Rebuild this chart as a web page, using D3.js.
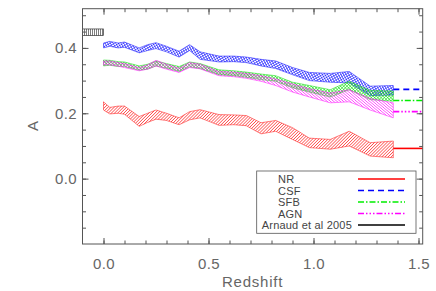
<!DOCTYPE html>
<html>
<head>
<meta charset="utf-8">
<script src="https://d3js.org/d3.v7.min.js"></script>
<style>
body { margin: 0; padding: 0; background: #fff; }
svg text { font-family: "Liberation Sans", Arial, sans-serif; }
.axis text { font-size: 15px; fill: #666; letter-spacing: 0.4px; }
.axis line, .axis path { stroke: #555; }
</style>
</head>
<body>
<svg id="chart" width="436" height="291"></svg>
<script>

// redshift of the simulation outputs
var zs = [0, 0.03, 0.07, 0.1, 0.17, 0.21, 0.25, 0.3, 0.36, 0.41, 0.46, 0.55, 0.62, 0.68, 0.75, 0.82, 0.9, 0.98, 1.08, 1.17, 1.27, 1.38];

// upper / lower edge of each band
var nrHi  = [0.235, 0.218, 0.222, 0.222, 0.19, 0.2, 0.21, 0.2, 0.186, 0.205, 0.211, 0.196, 0.195, 0.193, 0.171, 0.178, 0.156, 0.124, 0.12, 0.145, 0.11, 0.115];
var nrLo  = [0.21, 0.198, 0.2, 0.197, 0.16, 0.172, 0.182, 0.178, 0.165, 0.18, 0.186, 0.163, 0.165, 0.162, 0.137, 0.145, 0.12, 0.095, 0.09, 0.1, 0.069, 0.064];
var csfHi = [0.415, 0.42, 0.415, 0.418, 0.4, 0.41, 0.416, 0.405, 0.39, 0.41, 0.388, 0.375, 0.375, 0.372, 0.365, 0.36, 0.34, 0.325, 0.322, 0.328, 0.283, 0.285];
var csfLo = [0.4, 0.405, 0.4, 0.402, 0.385, 0.392, 0.398, 0.388, 0.372, 0.392, 0.365, 0.357, 0.358, 0.355, 0.345, 0.337, 0.318, 0.3, 0.295, 0.293, 0.254, 0.256];
var sfbHi = [0.363, 0.362, 0.358, 0.357, 0.345, 0.35, 0.36, 0.352, 0.343, 0.357, 0.352, 0.333, 0.33, 0.326, 0.32, 0.315, 0.295, 0.285, 0.272, 0.298, 0.27, 0.268];
var sfbLo = [0.345, 0.347, 0.343, 0.343, 0.332, 0.335, 0.345, 0.338, 0.328, 0.342, 0.337, 0.318, 0.315, 0.31, 0.303, 0.298, 0.278, 0.265, 0.25, 0.272, 0.242, 0.237];
var agnHi = [0.36, 0.36, 0.355, 0.352, 0.34, 0.348, 0.362, 0.35, 0.338, 0.355, 0.35, 0.328, 0.326, 0.322, 0.315, 0.305, 0.29, 0.275, 0.262, 0.272, 0.245, 0.232];
var agnLo = [0.348, 0.348, 0.344, 0.34, 0.33, 0.335, 0.345, 0.335, 0.325, 0.34, 0.336, 0.315, 0.312, 0.307, 0.298, 0.285, 0.265, 0.25, 0.232, 0.235, 0.21, 0.186];

// fitted value at the last output, drawn out to the edge
var names   = ["NR", "CSF", "SFB", "AGN"];
var endVals = [0.0925, 0.273, 0.239, 0.205];
var zEnd = [1.38, 1.52];

// Arnaud et al 2005 (z ~ 0)
var arnaudZ = [-0.1, 0];
var arnaudA = [0.438, 0.458];

var xTicks = [0, 0.5, 1, 1.5];
var yTicks = [0, 0.2, 0.4];

var svg = d3.select("#chart");
var x = d3.scaleLinear().domain([-0.1, 1.52]).range([82.5, 422.7]);
var y = d3.scaleLinear().domain([-0.2, 0.52]).range([244, 8.7]);

var defs = svg.append("defs");
function hatch(id, color, angle, gap, grid) {
  var p = defs.append("pattern").attr("id", id)
    .attr("patternUnits", "userSpaceOnUse")
    .attr("width", gap).attr("height", gap)
    .attr("patternTransform", "rotate(" + angle + ")");
  p.append("line").attr("x1", 0).attr("y1", 0).attr("x2", 0).attr("y2", gap)
    .attr("stroke", color).attr("stroke-width", 1.1);
  if (grid) p.append("line").attr("x1", 0).attr("y1", 0).attr("x2", gap).attr("y2", 0)
    .attr("stroke", color).attr("stroke-width", 1.0);
}
hatch("hNR", "#ff1010", 45, 2.2);
hatch("hCSF", "#1010ff", -30, 2.3, true);
hatch("hSFB", "#10e010", -45, 2.3, true);
hatch("hAGN", "#ff10ff", -50, 2.1);
hatch("hARN", "#111", 0, 2.0);

var bands = [
  {hi: nrHi, lo: nrLo, c: "#ff2020", p: "hNR"},
  {hi: csfHi, lo: csfLo, c: "#2020ff", p: "hCSF"},
  {hi: sfbHi, lo: sfbLo, c: "#20e020", p: "hSFB"},
  {hi: agnHi, lo: agnLo, c: "#ff20ff", p: "hAGN"}
];

var area = d3.area()
  .x(function(d) { return x(d.z); })
  .y0(function(d) { return y(d.lo); })
  .y1(function(d) { return y(d.hi); });

bands.forEach(function(b) {
  var pts = zs.map(function(z, i) { return {z: z, hi: b.hi[i], lo: b.lo[i]}; });
  svg.append("path").datum(pts).attr("d", area)
    .attr("fill", "url(#" + b.p + ")")
    .attr("stroke", b.c).attr("stroke-width", 0.7).attr("stroke-opacity", 0.8);
});

svg.append("rect")
  .attr("x", x(arnaudZ[0])).attr("y", y(arnaudA[1]))
  .attr("width", x(arnaudZ[1]) - x(arnaudZ[0]))
  .attr("height", y(arnaudA[0]) - y(arnaudA[1]))
  .attr("fill", "url(#hARN)").attr("stroke", "#333").attr("stroke-width", 0.7);

var styles = [
  {c: "#ff0000", dash: null},
  {c: "#0000ff", dash: "6,4"},
  {c: "#00ee00", dash: "6,2,1.5,2"},
  {c: "#ff00ff", dash: "6,2,1.5,2,1.5,2,1.5,2"},
  {c: "#000000", dash: null}
];

endVals.forEach(function(v, i) {
  svg.append("line")
    .attr("x1", x(zEnd[0])).attr("x2", x(zEnd[1]))
    .attr("y1", y(v)).attr("y2", y(v))
    .attr("stroke", styles[i].c).attr("stroke-width", 1.6)
    .attr("stroke-dasharray", styles[i].dash);
});

// axes: inward ticks on all four sides
var ax = svg.append("g").attr("class", "axis");
ax.append("g").attr("transform", "translate(0,244)")
  .call(d3.axisBottom(x).tickValues(xTicks).tickFormat(d3.format(".1f")).tickSizeInner(-6).tickSizeOuter(0).tickPadding(14));
ax.append("g").attr("transform", "translate(0,244)")
  .call(d3.axisBottom(x).tickValues(d3.range(0, 1.51, 0.1)).tickFormat("").tickSizeInner(-3.5).tickSizeOuter(0));
ax.append("g").attr("transform", "translate(0,8.7)")
  .call(d3.axisTop(x).tickValues(xTicks).tickFormat("").tickSizeInner(-6).tickSizeOuter(0));
ax.append("g").attr("transform", "translate(0,8.7)")
  .call(d3.axisTop(x).tickValues(d3.range(0, 1.51, 0.1)).tickFormat("").tickSizeInner(-3.5).tickSizeOuter(0));
ax.append("g").attr("transform", "translate(82.5,0)")
  .call(d3.axisLeft(y).tickValues(yTicks).tickFormat(d3.format(".1f")).tickSizeInner(-6).tickSizeOuter(0).tickPadding(5.5));
ax.append("g").attr("transform", "translate(82.5,0)")
  .call(d3.axisLeft(y).tickValues(d3.range(-0.15, 0.51, 0.05)).tickFormat("").tickSizeInner(-3.5).tickSizeOuter(0));
ax.append("g").attr("transform", "translate(422.7,0)")
  .call(d3.axisRight(y).tickValues(yTicks).tickFormat("").tickSizeInner(-6).tickSizeOuter(0));
ax.append("g").attr("transform", "translate(422.7,0)")
  .call(d3.axisRight(y).tickValues(d3.range(-0.15, 0.51, 0.05)).tickFormat("").tickSizeInner(-3.5).tickSizeOuter(0));
ax.selectAll(".domain").remove();

svg.append("rect").attr("x", 82.5).attr("y", 8.7)
  .attr("width", 422.7 - 82.5).attr("height", 244 - 8.7)
  .attr("fill", "none").attr("stroke", "#555").attr("stroke-width", 1);

svg.append("text").attr("x", 252.6).attr("y", 287)
  .attr("text-anchor", "middle").attr("font-size", 15).attr("fill", "#666")
  .attr("letter-spacing", 0.8).text("Redshift");
svg.append("text").attr("transform", "translate(38,126) rotate(-90)")
  .attr("text-anchor", "middle").attr("font-size", 15).attr("fill", "#666").text("A");

// legend
var labels = names.concat(["Arnaud et al 2005"]);
var leg = svg.append("g");
leg.append("rect").attr("x", 256.7).attr("y", 171).attr("width", 159.3).attr("height", 62.3)
  .attr("fill", "#fff").attr("stroke", "#555").attr("stroke-width", 0.8);
labels.forEach(function(t, i) {
  var yy = 179 + i * 11.5;
  var tx = leg.append("text").attr("y", yy + 4).attr("font-size", 11)
    .attr("fill", "#444").attr("letter-spacing", 0.2).text(t);
  var w = tx.node().getComputedTextLength();
  tx.attr("x", Math.min(278, 352 - w));
  leg.append("line").attr("x1", 358).attr("x2", 405).attr("y1", yy).attr("y2", yy)
    .attr("stroke", styles[i].c).attr("stroke-width", 1.5)
    .attr("stroke-dasharray", styles[i].dash);
});

</script>
</body>
</html>
